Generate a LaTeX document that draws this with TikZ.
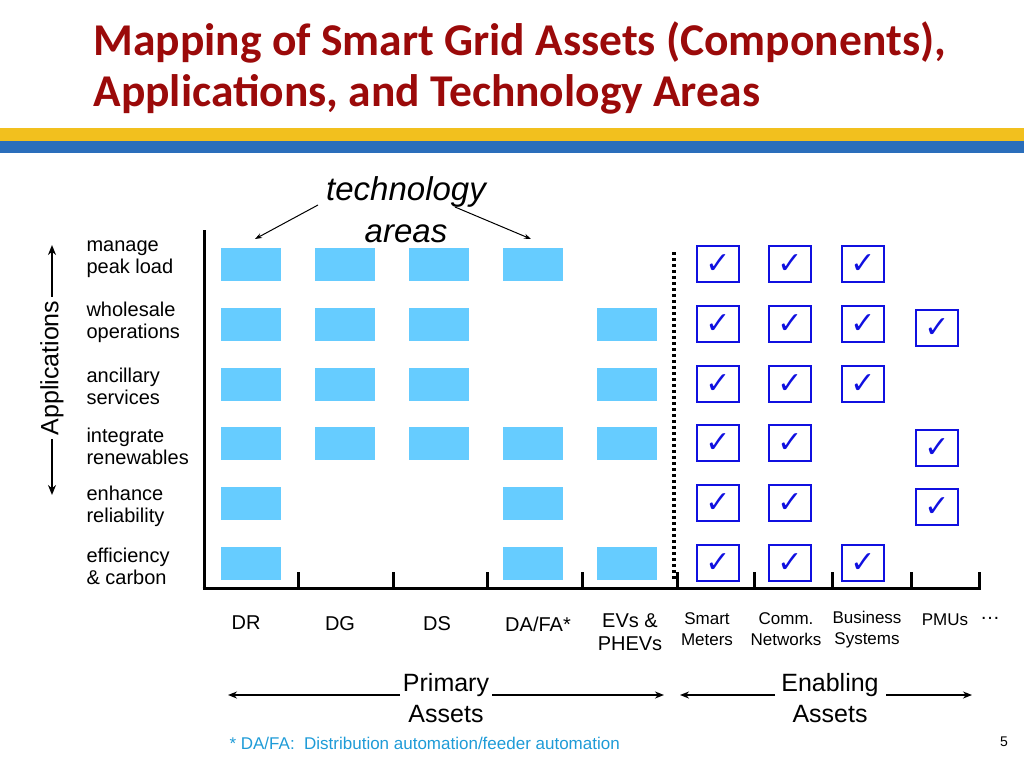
\documentclass[tikz,border=0pt]{standalone}
\usepackage{fontspec}
\setmainfont{Liberation Sans}
\newfontfamily\titlefont{Carlito}
\newfontfamily\dv{DejaVu Sans}
\usetikzlibrary{arrows.meta}
\definecolor{titlered}{HTML}{9B0A0A}
\definecolor{yellowbar}{HTML}{F2C01E}
\definecolor{bluebar}{HTML}{2A6EBB}
\definecolor{cell}{HTML}{66CCFF}
\definecolor{chk}{HTML}{1010E0}
\definecolor{foot}{HTML}{1E9BD7}
\tikzset{
 cellbox/.style={fill=cell,draw=none,minimum width=60pt,minimum height=33pt,inner sep=0},
 chkbox/.style={draw=chk,line width=2.6pt,minimum width=42pt,minimum height=36pt,inner sep=0,text=chk,font=\dv\bfseries\fontsize{30}{30}\selectfont},
 rowlab/.style={anchor=west,align=left,font=\fontsize{20}{22}\selectfont},
 collab/.style={align=center,font=\fontsize{20}{23}\selectfont},
 smalllab/.style={align=center,font=\fontsize{17}{21}\selectfont},
 bigarr/.style={-{Stealth[length=9pt,width=7pt]},line width=2pt},
 bigtext/.style={align=center,font=\fontsize{25}{31}\selectfont}
}
\begin{document}
\begin{tikzpicture}[x=1pt,y=-1pt]
\useasboundingbox (0,0) rectangle (1024,768);
% title
\node[anchor=west,text=titlered,font=\titlefont\bfseries\fontsize{45.5}{50}\selectfont] (t1) at (90,42) {Mapping of Smart Grid Assets (Components),};
\node[anchor=west,text=titlered,font=\titlefont\bfseries\fontsize{45.5}{50}\selectfont] (t2) at (90,94) {Applications, and Technology Areas};
\fill[yellowbar] (0,128) rectangle (1024,141);
\fill[bluebar] (0,141) rectangle (1024,153);
% axes
\draw[line width=3pt] (204,230) -- (204,590);
\draw[line width=3pt] (202.5,588) -- (981,588);
\foreach \x in {298,393,487,582,677,754,832,911,979} \draw[line width=3pt] (\x,588) -- (\x,572);
\draw[line width=3.5pt,dash pattern=on 3pt off 3pt] (674,252) -- (674,580);
% row labels
\foreach \y/\t in {259/{manage\\peak load},322/{wholesale\\operations},386/{ancillary\\services},446/{integrate\\renewables},506/{enhance\\reliability},566/{efficiency\\\& carbon}}
  \node[rowlab] at (83,\y) {\t};
% applications axis
\node[rotate=90,font=\fontsize{25}{27}\selectfont] (app) at (52,368) {Applications};
\coordinate (apt) at (52,245);
\coordinate (apb) at (52,495);
\draw[{Stealth[length=10pt,width=8pt]}-,line width=1.8pt] (apt) -- (app.east);
\draw[{Stealth[length=10pt,width=8pt]}-,line width=1.8pt] (apb) -- (app.west);
% technology areas
\node[bigtext,font=\itshape\fontsize{33}{42}\selectfont] (ta) at (406,210) {technology\\areas};
\coordinate (ta1) at (255,239);
\coordinate (ta2) at (531,239);
\draw[-{Stealth[length=7pt,width=5pt]},line width=1pt] (318,205) -- (ta1);
\draw[-{Stealth[length=7pt,width=5pt]},line width=1pt] (455,207) -- (ta2);
% cells
\foreach \x/\y in {251/264,345/264,439/264,533/264,
 251/324,345/324,439/324,627/324,
 251/384,345/384,439/384,627/384,
 251/443,345/443,439/443,533/443,627/443,
 251/503,533/503,
 251/563,533/563,627/563}
  \node[cellbox] at (\x,\y) {};
% checks
\foreach \x/\y in {718/264,790/264,863/264,
 718/324,790/324,863/324,937/328,
 718/384,790/384,863/384,
 718/443,790/443,937/448,
 718/503,790/503,937/507,
 718/563,790/563,863/563}
  \node[chkbox] at (\x,\y) {✓};
% column labels
\node[collab] (dr) at (246,623) {DR};
\node[collab] (dg) at (340,624) {DG};
\node[collab] (ds) at (437,624) {DS};
\node[collab] (da) at (538,624) {DA/FA*};
\node[collab] (ev) at (630,632) {EVs \&\\PHEVs};
\node[smalllab] (sm) at (707,629) {Smart\\Meters};
\node[smalllab] (cn) at (786,629) {Comm.\\Networks};
\node[smalllab] (bs) at (867,630) {Business\\Systems};
\node[smalllab] (pm) at (945,620) {PMUs};
\node[font=\fontsize{20}{20}\selectfont] (dots) at (990,618) {\dots};
% bottom groups
\node[bigtext] (pa) at (446,698) {Primary\\Assets};
\node[bigtext] (ea) at (830,698) {Enabling\\Assets};
\coordinate (pl) at (228,695); \coordinate (pr) at (664,695);
\coordinate (el) at (680,695); \coordinate (er) at (972,695);
\draw[bigarr] (400,695) -- (pl);
\draw[bigarr] (492,695) -- (pr);
\draw[bigarr] (775,695) -- (el);
\draw[bigarr] (886,695) -- (er);
\node[anchor=west,text=foot,font=\fontsize{17}{19}\selectfont] (fn) at (226,743) {* DA/FA:\ \ Distribution automation/feeder automation};
\node[font=\fontsize{14}{15}\selectfont] (pg) at (1004,742) {5};
\end{tikzpicture}
\end{document}
